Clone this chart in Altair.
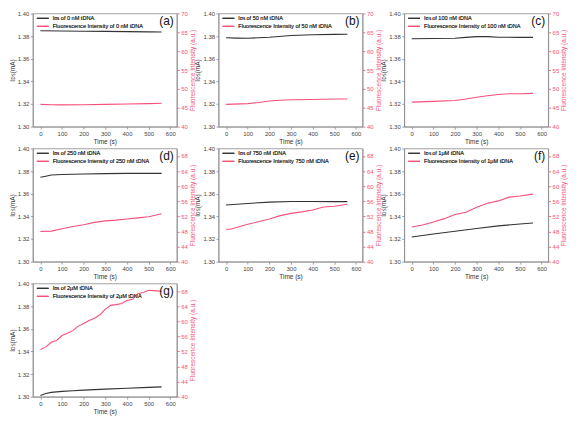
import altair as alt
import pandas as pd

FONT = "Liberation Sans"
BLACK = "#333333"
PINK = "#f5507a"
GREY = "#8a8a8a"

# ---- data ----
# (a) 0 nM
a_tI = [0, 100, 200, 300, 400, 500, 560]
a_I = [1.3847, 1.3845, 1.3843, 1.3841, 1.3839, 1.3837, 1.3836]
a_tF = [0, 50, 100, 200, 300, 400, 500, 560]
a_F = [45.9, 45.8, 45.75, 45.8, 45.9, 46.0, 46.1, 46.2]
# (b) 50 nM
b_tI = [0, 50, 100, 150, 200, 300, 400, 500, 560]
b_I = [1.3785, 1.3782, 1.3780, 1.3785, 1.3790, 1.3805, 1.3812, 1.3815, 1.3816]
b_tF = [0, 100, 150, 200, 250, 300, 400, 500, 560]
b_F = [45.9, 46.1, 46.4, 46.8, 47.0, 47.1, 47.2, 47.3, 47.3]
# (c) 100 nM
c_tI = [0, 100, 200, 250, 300, 350, 400, 500, 560]
c_I = [1.3776, 1.3778, 1.3780, 1.3788, 1.3795, 1.3795, 1.3790, 1.3788, 1.3788]
c_tF = [0, 100, 200, 250, 300, 350, 400, 450, 500, 560]
c_F = [46.5, 46.7, 46.9, 47.3, 47.8, 48.2, 48.5, 48.7, 48.7, 48.8]
# (d) 250 nM
d_tI = [0, 25, 50, 100, 200, 300, 400, 500, 560]
d_I = [1.3745, 1.3755, 1.3765, 1.3770, 1.3775, 1.3778, 1.3780, 1.3780, 1.3780]
d_tF = [0, 50, 100, 150, 200, 250, 300, 350, 400, 450, 500, 530, 560]
d_F = [48.0, 48.1, 48.7, 49.3, 49.8, 50.4, 50.8, 51.0, 51.3, 51.6, 51.9, 52.3, 52.7]
# (e) 750 nM
e_tI = [0, 100, 200, 300, 400, 500, 560]
e_I = [1.3500, 1.3514, 1.3526, 1.3531, 1.3532, 1.3530, 1.3530]
e_tF = [0, 20, 100, 200, 250, 300, 350, 400, 450, 500, 560]
e_F = [48.6, 48.6, 49.9, 51.3, 52.2, 52.8, 53.2, 53.7, 54.5, 54.7, 55.2]
# (f) 1 uM
f_tI = [0, 100, 200, 300, 400, 500, 560]
f_I = [1.3218, 1.3245, 1.3268, 1.3293, 1.3316, 1.3333, 1.3342]
f_tF = [0, 50, 100, 150, 200, 250, 300, 350, 400, 450, 500, 560]
f_F = [49.2, 49.7, 50.5, 51.4, 52.5, 53.1, 54.4, 55.5, 56.1, 57.1, 57.4, 57.9]
# (g) 2 uM
g_tI = [0, 25, 50, 100, 150, 200, 300, 400, 500, 560]
g_I = [1.3011, 1.3028, 1.3038, 1.3047, 1.3053, 1.3058, 1.3067, 1.3075, 1.3082, 1.3087]
g_tF = [0, 25, 50, 75, 100, 125, 150, 175, 200, 225, 250, 275, 300, 325, 350,
        375, 400, 425, 450, 475, 500, 525, 560]
g_F = [52.5, 53.2, 54.4, 54.9, 56.2, 56.8, 57.5, 58.7, 59.4, 60.2, 60.8, 61.7, 63.2,
       64.2, 64.4, 64.7, 65.5, 65.8, 67.3, 67.6, 68.2, 68.1, 67.9]

left_ticks = [1.30, 1.32, 1.34, 1.36, 1.38, 1.40]
right_ticks_5 = [40, 45, 50, 55, 60, 65, 70]
right_ticks_4 = [40, 44, 48, 52, 56, 60, 64, 68]
time_ticks = [0, 100, 200, 300, 400, 500, 600]

W, H = 145, 114
I_TITLE = "I\u1d05\ua731(mA)"


def panel(tI, I, tF, F, labI, labF, tag, rticks):
    dfI = pd.DataFrame({"t": tI, "v": I, "s": labI})
    dfF = pd.DataFrame({"t": tF, "v": F, "s": labF})
    color = alt.Color(
        "s:N",
        scale=alt.Scale(domain=[labI, labF], range=[BLACK, PINK]),
        legend=alt.Legend(
            title=None, orient="none", legendX=3, legendY=1,
            symbolType="stroke", symbolSize=140, symbolStrokeWidth=1.3,
            labelFontSize=5.6, labelFont=FONT, labelColor="#333333",
            rowPadding=0, clipHeight=8, labelLimit=300, padding=0,
            labelOffset=3,
        ),
    )
    x = alt.X(
        "t:Q",
        scale=alt.Scale(domain=[-35, 630], nice=False),
        axis=alt.Axis(values=time_ticks, title="Time (s)", format="d"),
    )
    l1 = alt.Chart(dfI).mark_line(strokeWidth=1.1).encode(
        x=x,
        y=alt.Y(
            "v:Q",
            scale=alt.Scale(domain=[1.30, 1.40], nice=False, zero=False),
            axis=alt.Axis(values=left_ticks, format=".2f", title=I_TITLE, orient="left"),
        ),
        color=color,
    )
    l2 = alt.Chart(dfF).mark_line(strokeWidth=1.1).encode(
        x=x,
        y=alt.Y(
            "v:Q",
            scale=alt.Scale(domain=[40, 70], nice=False, zero=False),
            axis=alt.Axis(
                values=rticks, format="d", title="Fluorescence Intensity (a.u.)",
                orient="right", labelColor=PINK, titleColor=PINK, tickColor=PINK,
                titleAngle=270, titleBaseline="top", titlePadding=2,
            ),
        ),
        color=color,
    )
    lab = alt.Chart(pd.DataFrame({"l": [tag]})).mark_text(
        align="right", baseline="top", fontSize=12, font=FONT, color="#111111"
    ).encode(text="l:N", x=alt.value(W - 3), y=alt.value(3))
    return alt.layer(l1, l2, lab).resolve_scale(y="independent", color="independent").properties(
        width=W, height=H
    )


pa = panel(a_tI, a_I, a_tF, a_F, "I\u1d05\ua731 of 0 nM tDNA",
           "Fluorescence Intensity of 0 nM tDNA", "(a)", right_ticks_5)
pb = panel(b_tI, b_I, b_tF, b_F, "I\u1d05\ua731 of 50 nM tDNA",
           "Fluorescence Intensity of 50 nM tDNA", "(b)", right_ticks_5)
pc = panel(c_tI, c_I, c_tF, c_F, "I\u1d05\ua731 of 100 nM tDNA",
           "Fluorescence Intensity of 100 nM tDNA", "(c)", right_ticks_5)
pd_ = panel(d_tI, d_I, d_tF, d_F, "I\u1d05\ua731 of 250 nM tDNA",
            "Fluorescence Intensity of 250 nM tDNA", "(d)", right_ticks_4)
pe = panel(e_tI, e_I, e_tF, e_F, "I\u1d05\ua731 of 750 nM tDNA",
           "Fluorescence Intensity 750 nM tDNA", "(e)", right_ticks_4)
pf = panel(f_tI, f_I, f_tF, f_F, "I\u1d05\ua731 of 1\u03bcM tDNA",
           "Fluorescence Intensity of 1\u03bcM tDNA", "(f)", right_ticks_4)
pg = panel(g_tI, g_I, g_tF, g_F, "I\u1d05\ua731 of 2\u03bcM tDNA",
           "Fluorescence Intensity of 2\u03bcM tDNA", "(g)", right_ticks_4)

chart = (
    alt.concat(pa, pb, pc, pd_, pe, pf, pg, columns=3,
               spacing={"row": 22, "column": 42}, bounds="flush")
    .resolve_scale(color="independent")
    .properties(padding=0, background="white")
    .configure_view(stroke=GREY, strokeWidth=0.8)
    .configure_axis(
        labelFont=FONT, titleFont=FONT, labelFontSize=6, titleFontSize=6.5,
        titleFontWeight="normal", labelColor="#444444", titleColor="#333333",
        domainColor=GREY, tickColor=GREY, tickSize=2.5, grid=False,
        labelPadding=1.5, titlePadding=2, domainWidth=0.8, tickWidth=0.8,
    )
)

chart.save("out.html", embed_options={"renderer": "svg", "actions": False})
